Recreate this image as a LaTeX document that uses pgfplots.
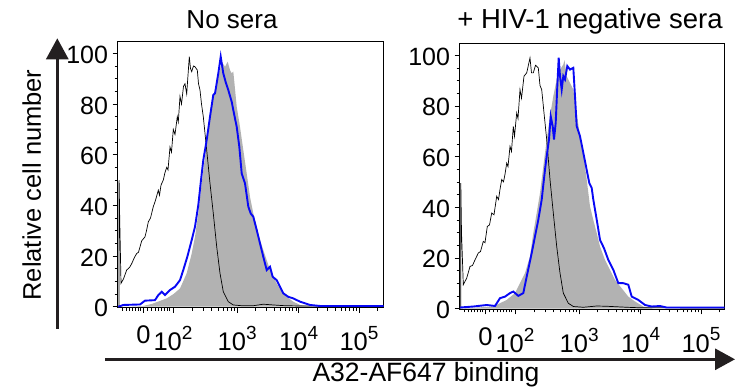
\documentclass[border=0pt]{standalone}
\usepackage{fontspec}
\setmainfont{Liberation Sans}
\usepackage{pgfplots}
\pgfplotsset{compat=1.18}
\usetikzlibrary{arrows.meta}
\definecolor{fillgray}{RGB}{178,178,178}
\definecolor{fblue}{RGB}{8,8,245}
\definecolor{arrowc}{RGB}{35,31,32}
\newcommand\tk[1]{\mbox{\fontsize{25.5bp}{26bp}\selectfont 10\raisebox{0.45em}{\fontsize{19bp}{19bp}\selectfont #1}}}
\newcommand\yk[1]{\mbox{\fontsize{25bp}{25bp}\selectfont #1}}

\pgfplotsset{hist/.style={
  scale only axis, anchor=south west,
  width=266bp, height=266bp,
  xmin=0, xmax=266, ymin=-0.3, ymax=104.67,
  axis line style={line width=0.7bp, black},
  tick align=outside, xtick pos=bottom, ytick pos=left,
  major tick length=5bp, minor tick length=3bp,
  every tick/.style={line width=0.6bp, black},
  xtick={26,55.5,119.7,181.2,241.5},
  xticklabels={\mbox{\fontsize{25.5bp}{26bp}\selectfont 0},\tk{2},\tk{3},\tk{4},\tk{5}},
  minor xtick={5,9,12,15,18,21,23,30,34,38,41,44,47,50,52,74.8,86.1,94.2,100.4,105.5,109.8,113.5,116.8,138.2,149.0,156.7,162.7,167.6,171.7,175.2,178.4,199.4,210.0,217.5,223.3,228.1,232.2,235.7,238.7,259.6},
  ytick={0,20,40,60,80,100},
  yticklabels={\yk{0},\yk{20},\yk{40},\yk{60},\yk{80},\yk{100}},
  minor ytick={5,10,15,25,30,35,45,50,55,65,70,75,85,90,95},
  yticklabel style={xshift=-1bp, yshift=-1.5bp},
  xticklabel style={yshift=-10bp},
  clip=true,
}}

\begin{document}
\begin{tikzpicture}
\useasboundingbox (0,0) rectangle (735bp,388bp);

% ---------- left panel ----------
\begin{axis}[hist, at={(117.5bp,80.5bp)}, width=266bp, xmax=266]
\addplot[fill=fillgray, draw=none] coordinates {
(0,0) (10,0) (25.8,0.3) (35,1.2) (49.2,3.3) (56,5) (62.5,7.2) (69.2,13.2) (74.2,21) (77.5,27.6) (80.8,36.8) (84.2,48.7) (87.5,59.2) (90.8,68.4) (94.2,79) (97.5,85.5) (100.8,90.8) (104.2,96.7) (107.5,94.7) (110.2,96.7) (112.5,93.4) (114.2,92.1) (115.8,92.8) (117,88) (119.2,79) (122.5,71) (125.8,61.8) (129.2,52.6) (132.5,43.4) (135.8,36.8) (139.2,31.6) (142.5,26.3) (145.8,22.4) (149.2,18.4) (152.5,14.5) (155.8,11.8) (159.2,9.2) (164.2,5.9) (169.2,3.9) (175.8,2) (182.5,0.7) (195.8,0) (266,0)
} -- cycle;
\addplot[black, line width=0.7bp] coordinates {
(1.5,0) (1.6,50) (2.2,35) (3.5,9.2) (6,11) (9.2,14.5) (12,15.5) (14.2,17) (17,19.5) (19.2,21) (21,21.5) (24.2,26) (27.5,27.6) (29,30) (30.8,33.5) (33,35) (35.8,39.5) (38,42) (40.8,46) (42,44) (43.5,48) (45.8,50) (47.5,53) (49.2,55) (50.5,54) (52.5,63) (54,61) (55.8,70) (57.5,68) (59.8,75) (60.8,73) (62.5,83) (64,80) (66,87) (67.5,88) (69.2,84) (71.8,98.7) (73,94) (74.2,92.8) (76,95) (77.5,94.7) (79.8,93.4) (81,88) (82.5,85.5) (84,80) (85.8,75) (89.2,61.8) (92.5,48.7) (95.8,36.8) (99.2,23.7) (102.5,13.2) (105.8,5.9) (110.8,2) (115.8,0.7) (124.2,0.4) (135.8,0.4) (145.8,1) (155.8,0.7) (167.5,0.4) (182.5,0.3) (266,0.2)
};
\addplot[fblue, line width=1.9bp] coordinates {
(0.8,0) (5.8,0.7) (22.5,0.9) (27.5,2.4) (37.5,2.6) (40.8,4.6) (44.2,5.9) (47.5,4.6) (52.5,6.6) (57.5,7.9) (62.5,10.5) (65.8,14.5) (69.8,19.7) (74.2,26.3) (77.5,31.6) (80.8,40.1) (83.5,50) (85.8,57.9) (89.2,65.8) (92.5,75) (95.8,83.6) (97.5,84.2) (100.8,92.1) (103.2,98.7) (105.8,92.1) (108.5,88.2) (110.8,85.5) (114.2,80.9) (115.8,77.6) (119.2,71) (121.8,63.2) (124.2,52.6) (127.5,48.7) (130.8,39.5) (133.2,36.8) (135.8,35.5) (139.2,30.3) (142.5,25) (145.8,19.7) (149.2,14.5) (152.5,15.8) (155.2,11.8) (159.2,10.5) (162.5,7.9) (165.8,5.3) (170.8,3.9) (175.8,3.3) (182.5,2) (192.5,0.7) (202.5,0.3) (266,0.3)
};
\end{axis}

% ---------- right panel ----------
\begin{axis}[hist, at={(459.5bp,78.7bp)}, width=265bp, xmax=265]
\addplot[fill=fillgray, draw=none] coordinates {
(0,0) (33.8,0.8) (47.2,3.4) (55.5,6.1) (60.5,10) (65.5,14) (70.5,20.6) (73.8,29.8) (77.2,37.7) (80.5,45.6) (83.8,56.1) (87.2,66.7) (90.5,75.9) (93.8,83.8) (97.2,90.4) (100.5,94.3) (103.8,96.3) (105,98) (107.2,91.7) (110.5,89) (113.8,86.4) (117.2,77.2) (120.5,68) (123.8,61.4) (127.2,50.9) (130.5,40.3) (133.8,35) (137.2,29.8) (140.5,24.5) (145.5,19.2) (150.5,15.3) (155.5,11.3) (162.2,8) (168.8,4.7) (175.5,2.8) (183.8,0.8) (193.8,0) (265,0)
} -- cycle;
\addplot[black, line width=0.7bp] coordinates {
(1.2,0) (1.3,49.5) (2,30) (3.8,9.4) (7.2,12) (10.5,16.6) (13,17) (15.5,19.2) (18.8,21.9) (21,22.5) (23.8,26.5) (25.5,26) (27.8,32.4) (30,33) (32.2,37.7) (34.5,37) (37.2,44.3) (39,43) (40.5,47) (42.2,50.9) (44,50) (45.5,53) (47.2,57.4) (48.5,56) (50.5,64) (52,62) (53.8,71.9) (55,68) (57.2,77.2) (58.5,75) (60.5,86.4) (62,83) (64.5,91.7) (67.2,93) (70.5,98.9) (72,93) (73.8,93) (76,96) (78.8,95) (80.5,88) (82.2,86.4) (84.5,77.2) (87.2,66.7) (90.5,50.9) (93.8,37.7) (97.2,24.5) (100.5,14) (103.8,6.1) (108.8,2.1) (113.8,0.8) (123.8,0.5) (137.2,1) (147.2,0.9) (167.2,0.5) (180.5,0.3) (265,0.2)
};
\addplot[fblue, line width=1.9bp] coordinates {
(0.5,0.4) (13.8,0.8) (27.2,1.4) (35.5,1) (40.5,4.1) (45.5,4.7) (50.5,6.1) (53.8,6.7) (58.8,5) (63.8,6.1) (67.2,12.6) (72.2,21.9) (75.5,28.5) (78.8,35) (82.2,43) (85.5,54.8) (87.2,60.1) (89.5,66.7) (91.2,75.9) (93.2,71.9) (94.5,66.7) (96.2,73.3) (97.8,87.7) (99.2,99) (100.5,91.7) (102.2,86.4) (103.8,91.7) (105.5,90.4) (107.8,95.7) (110.5,94.3) (113.8,95) (115.5,83.8) (117.2,71.9) (120.5,68) (123.2,62.7) (126.5,56.1) (129.8,49.5) (132.2,47.6) (133.8,43) (137.8,33.7) (140.5,27.1) (144.5,23.8) (148.8,19.2) (153.8,15.3) (158.8,10) (163.8,10) (168.8,9.4) (172.2,4.7) (178.8,3.4) (185.5,1.4) (192.2,0.8) (200.5,1) (207.2,0.4) (265,0.4)
};
\end{axis}

% ---------- titles, labels, arrows ----------
\node[anchor=base, font=\fontsize{26bp}{30bp}\selectfont] at (232bp,359.7bp) {No sera};
\node[anchor=base, font=\fontsize{27.5bp}{30bp}\selectfont] at (590bp,359.7bp) {+ HIV-1 negative sera};
\node[rotate=90, font=\fontsize{25.5bp}{30bp}\selectfont] at (31.7bp,203bp) {Relative cell number};
\node[anchor=base, font=\fontsize{26.5bp}{30bp}\selectfont] at (426bp,6.5bp) {A32-AF647 binding};
\draw[arrowc, line width=3bp, -{Triangle[length=21bp,width=22bp]}] (57.3bp,59bp) -- (57.3bp,349.7bp);
\draw[arrowc, line width=3bp, -{Triangle[length=20bp,width=21bp]}] (105bp,28.7bp) -- (735bp,28.7bp);
\end{tikzpicture}
\end{document}
